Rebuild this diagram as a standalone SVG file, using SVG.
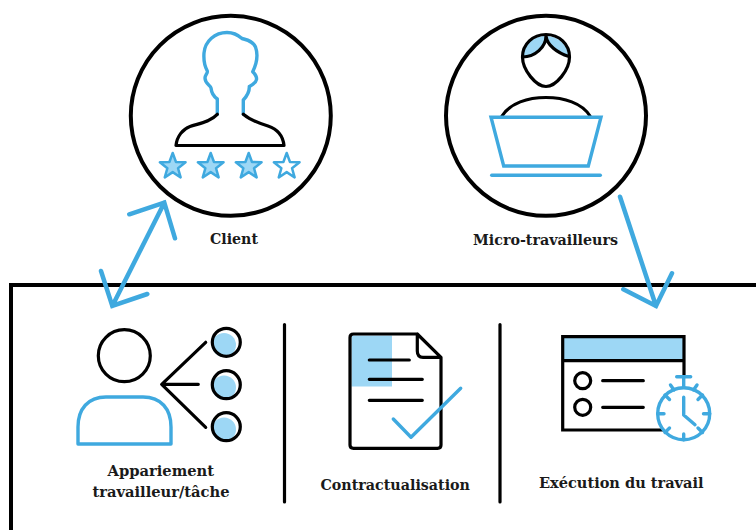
<svg xmlns="http://www.w3.org/2000/svg" xmlns:xlink="http://www.w3.org/1999/xlink" width="756" height="530" viewBox="0 0 756 530">
<style>
.k{fill:none;stroke:#000;stroke-width:3.2;stroke-linecap:round;stroke-linejoin:round}
.b{fill:none;stroke:#3FA9DF;stroke-width:3.4;stroke-linecap:round;stroke-linejoin:round}
.w{fill:#fff}
.l{fill:#9DD7F5;stroke:none}
.ring{fill:#fff;stroke:#000;stroke-width:4}
.arrow{fill:none;stroke:#3FA9DF;stroke-width:4.5;stroke-linecap:round;stroke-linejoin:miter}
text{font-family:"DejaVu Serif Condensed","DejaVu Serif","Liberation Serif",serif;font-weight:bold;font-size:15.5px;fill:#1a1a1a}
</style>
<defs>
<polygon id="star" points="0,-13.5 3.29,-4.53 12.84,-4.17 5.33,1.73 7.94,10.92 0,5.6 -7.94,10.92 -5.33,1.73 -12.84,-4.17 -3.29,-4.53"/>
</defs>
<rect width="756" height="530" fill="#fff"/>
<g id="frame"><path d="M756,285H11V530" fill="none" stroke="#000" stroke-width="4"/></g>
<g id="client">
<circle class="ring" cx="230.8" cy="115.8" r="100"/>
<path class="b" d="M217.3,114.3V99C213,96 211.5,93 211,88C210.5,85 205,84 205,78C205,75 208,73 207.3,71C204,65 203.5,60 204,53C205,41 215,32.5 227,32.5C233,32.5 237,34 242,38.5C247,40 253,41 255.5,47C258,54 257.5,62 252.7,71.7C254,73 257,76 256.5,79.5C256,83 251,85.5 249.3,86.5C249.5,91 248,95 243.3,100V114.3"/>
<path class="k" d="M217.3,114.3C210,122 199,123.5 190,126.5C183,129 177,136 176,145.5H284C283,136 277,129 268,126C258,123 250,120 243.3,114.3"/>
<use href="#star" x="172.7" y="166.5" class="b" style="fill:#9DD7F5;stroke-width:2.5"/>
<use href="#star" x="210.7" y="166.5" class="b" style="fill:#9DD7F5;stroke-width:2.5"/>
<use href="#star" x="248.7" y="166.5" class="b" style="fill:#9DD7F5;stroke-width:2.5"/>
<use href="#star" x="286.7" y="166.5" class="b" style="stroke-width:2.5"/>
<text x="210" y="244" textLength="48" lengthAdjust="spacingAndGlyphs">Client</text>
</g>
<g id="micro-travailleurs">
<circle class="ring" cx="546" cy="115.8" r="100"/>
<path class="l" d="M546,36C546,47 535,57 523.5,57C523,45 533,35.5 546,36Z"/>
<path class="l" d="M546,36C547,45 557,53 568.5,56.5C568,45 558,36 546,36Z"/>
<path class="k" d="M522.5,57C522.5,44 533,34.5 546,34.5C559,34.5 569.5,44 569.5,57C569.5,70 556,86.5 546,86.5C536,86.5 522.5,70 522.5,57Z"/>
<path class="k" d="M522.5,57C535,57 546,47 546,36C547,45 557,53 569,56.5"/>
<path class="k" d="M502,116C510,103 528,97.5 546,97.5C564,97.5 582,103 590,116"/>
<path class="b" d="M491,117.3H601L588.3,166H503.7Z" style="stroke-linecap:butt;stroke-linejoin:miter"/>
<path class="b" d="M491.7,175.3H600.3"/>
<text x="473" y="245" textLength="145" lengthAdjust="spacingAndGlyphs">Micro-travailleurs</text>
</g>
<g id="appariement">
<circle class="k" cx="124.3" cy="355.7" r="26"/>
<path class="b" d="M78,444V427C78,409 88,397 106,397H143C161,397 171,409 171,427V444Z"/>
<path class="k" d="M205.7,342.3L161.7,384.3H198.3M161.7,384.3L205.7,427.3"/>
<circle class="l" cx="224" cy="345" r="12"/>
<circle class="l" cx="224" cy="387.5" r="12"/>
<circle class="l" cx="224" cy="429.5" r="12"/>
<circle class="k" cx="226.3" cy="342.3" r="14"/>
<circle class="k" cx="226.3" cy="384.7" r="14"/>
<circle class="k" cx="226.3" cy="426.7" r="14"/>
<text x="107.5" y="476" textLength="106.5" lengthAdjust="spacingAndGlyphs">Appariement</text>
<text x="92.5" y="497" textLength="137" lengthAdjust="spacingAndGlyphs">travailleur/tâche</text>
</g>
<g id="separateurs">
<path class="k" d="M284.5,324.5V502M500,324.5V502"/>
</g>
<g id="contractualisation">
<rect class="l" x="351.5" y="335.5" width="40.5" height="51"/>
<path class="k" d="M417.3,334H353.5Q350,334 350,337.5V445Q350,448.3 353.5,448.3H437.5Q441,448.3 441,445V357.3L417.3,334V351Q417.3,357.3 423,357.3H441"/>
<path class="k" d="M369.3,360H409.3M369.3,379.3H422.3M369.3,400.3H422.3"/>
<path class="b" d="M393.3,419L411,437.3L460.7,388.3"/>
<text x="320.5" y="490" textLength="149.5" lengthAdjust="spacingAndGlyphs">Contractualisation</text>
</g>
<g id="execution">
<rect class="l" x="563" y="337" width="121" height="23.7"/>
<path class="k" d="M684,375V336.7H562.7V430H665M562.7,360.7H684" style="stroke-linecap:butt;stroke-linejoin:miter"/>
<circle class="k" cx="582.7" cy="380.7" r="8"/>
<circle class="k" cx="582.7" cy="407.3" r="8"/>
<path class="k" d="M602.7,380.7H643.3M602.7,407.3H643.3"/>
<circle class="b w" cx="683.7" cy="413.7" r="26" style="fill:#fff"/>
<path class="b" d="M676.7,376.7H690.7M683.7,376.7V387M670.5,385L674,390M697,385L693.5,390M665,395L669.5,399.5M702.5,395L698,399.5M657.7,413.7H664M703.5,413.7H709.7M665,432.5L669.5,428M702.5,432.5L698,428M683.7,434V439.7M683.7,397.3V415L695,424.7"/>
<text x="539" y="488" textLength="164.5" lengthAdjust="spacingAndGlyphs">Exécution du travail</text>
</g>
<g id="connectors">
<path class="arrow" d="M164.3,202.7L112.3,306M129.3,214.3L164.3,202.7L175,238.3M101,271L112.3,306L147.3,294"/>
<path class="arrow" d="M620,196.7L656,306M623.3,289.3L656,306L672,273.3"/>
</g>
</svg>
